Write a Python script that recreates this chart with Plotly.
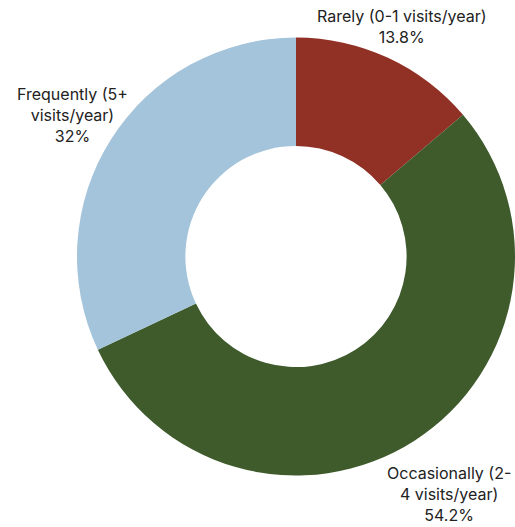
import math
import plotly.graph_objects as go

# Survey shares: how often respondents visit
categories = [
    "Rarely (0-1 visits/year)",
    "Occasionally (2-4 visits/year)",
    "Frequently (5+ visits/year)",
]
display_labels = [
    "Rarely (0-1 visits/year)",
    "Occasionally (2-<br>4 visits/year)",
    "Frequently (5+<br>visits/year)",
]
shares = [13.8, 54.2, 32.0]
colors = ["#913024", "#3f5b2c", "#a3c4db"]

W, H = 515, 527

# Pie placement in pixels (margins are zero, so paper == page)
left_px, top_px, bottom_px = 77, 35, 478
domain_x = [left_px / W, 1.0]
domain_y = [1 - bottom_px / H, 1 - top_px / H]
dom_w = W - left_px
dom_h = bottom_px - top_px
R = min(dom_w, dom_h) / 2
cx = left_px + dom_w / 2
cy = top_px + dom_h / 2

fig = go.Figure(
    go.Pie(
        labels=categories,
        values=shares,
        hole=0.505,
        sort=False,
        direction="clockwise",
        rotation=0,
        marker=dict(colors=colors, line=dict(width=0)),
        textinfo="none",
        hoverinfo="label+percent",
        domain=dict(x=domain_x, y=domain_y),
        showlegend=False,
    )
)

# Outside labels, placed along each slice's middle angle
label_gap = [34, 64, 46]
total = sum(shares)
annotations = []
cum = 0.0
for text, v, gap in zip(display_labels, shares, label_gap):
    mid = (cum + v / 2) / total * 2 * math.pi
    cum += v
    r = R + gap
    px = cx + r * math.sin(mid)
    py = cy - r * math.cos(mid)
    annotations.append(
        dict(
            text=f"{text}<br>{v:g}%",
            x=px / W,
            y=1 - py / H,
            xref="paper",
            yref="paper",
            showarrow=False,
            xanchor="center",
            yanchor="middle",
            align="center",
            font=dict(family="Inter, sans-serif", size=16, color="#222222"),
        )
    )

fig.update_layout(
    width=W,
    height=H,
    autosize=False,
    margin=dict(l=0, r=0, t=0, b=0),
    paper_bgcolor="white",
    plot_bgcolor="white",
    annotations=annotations,
)

fig.write_html("out.html")
